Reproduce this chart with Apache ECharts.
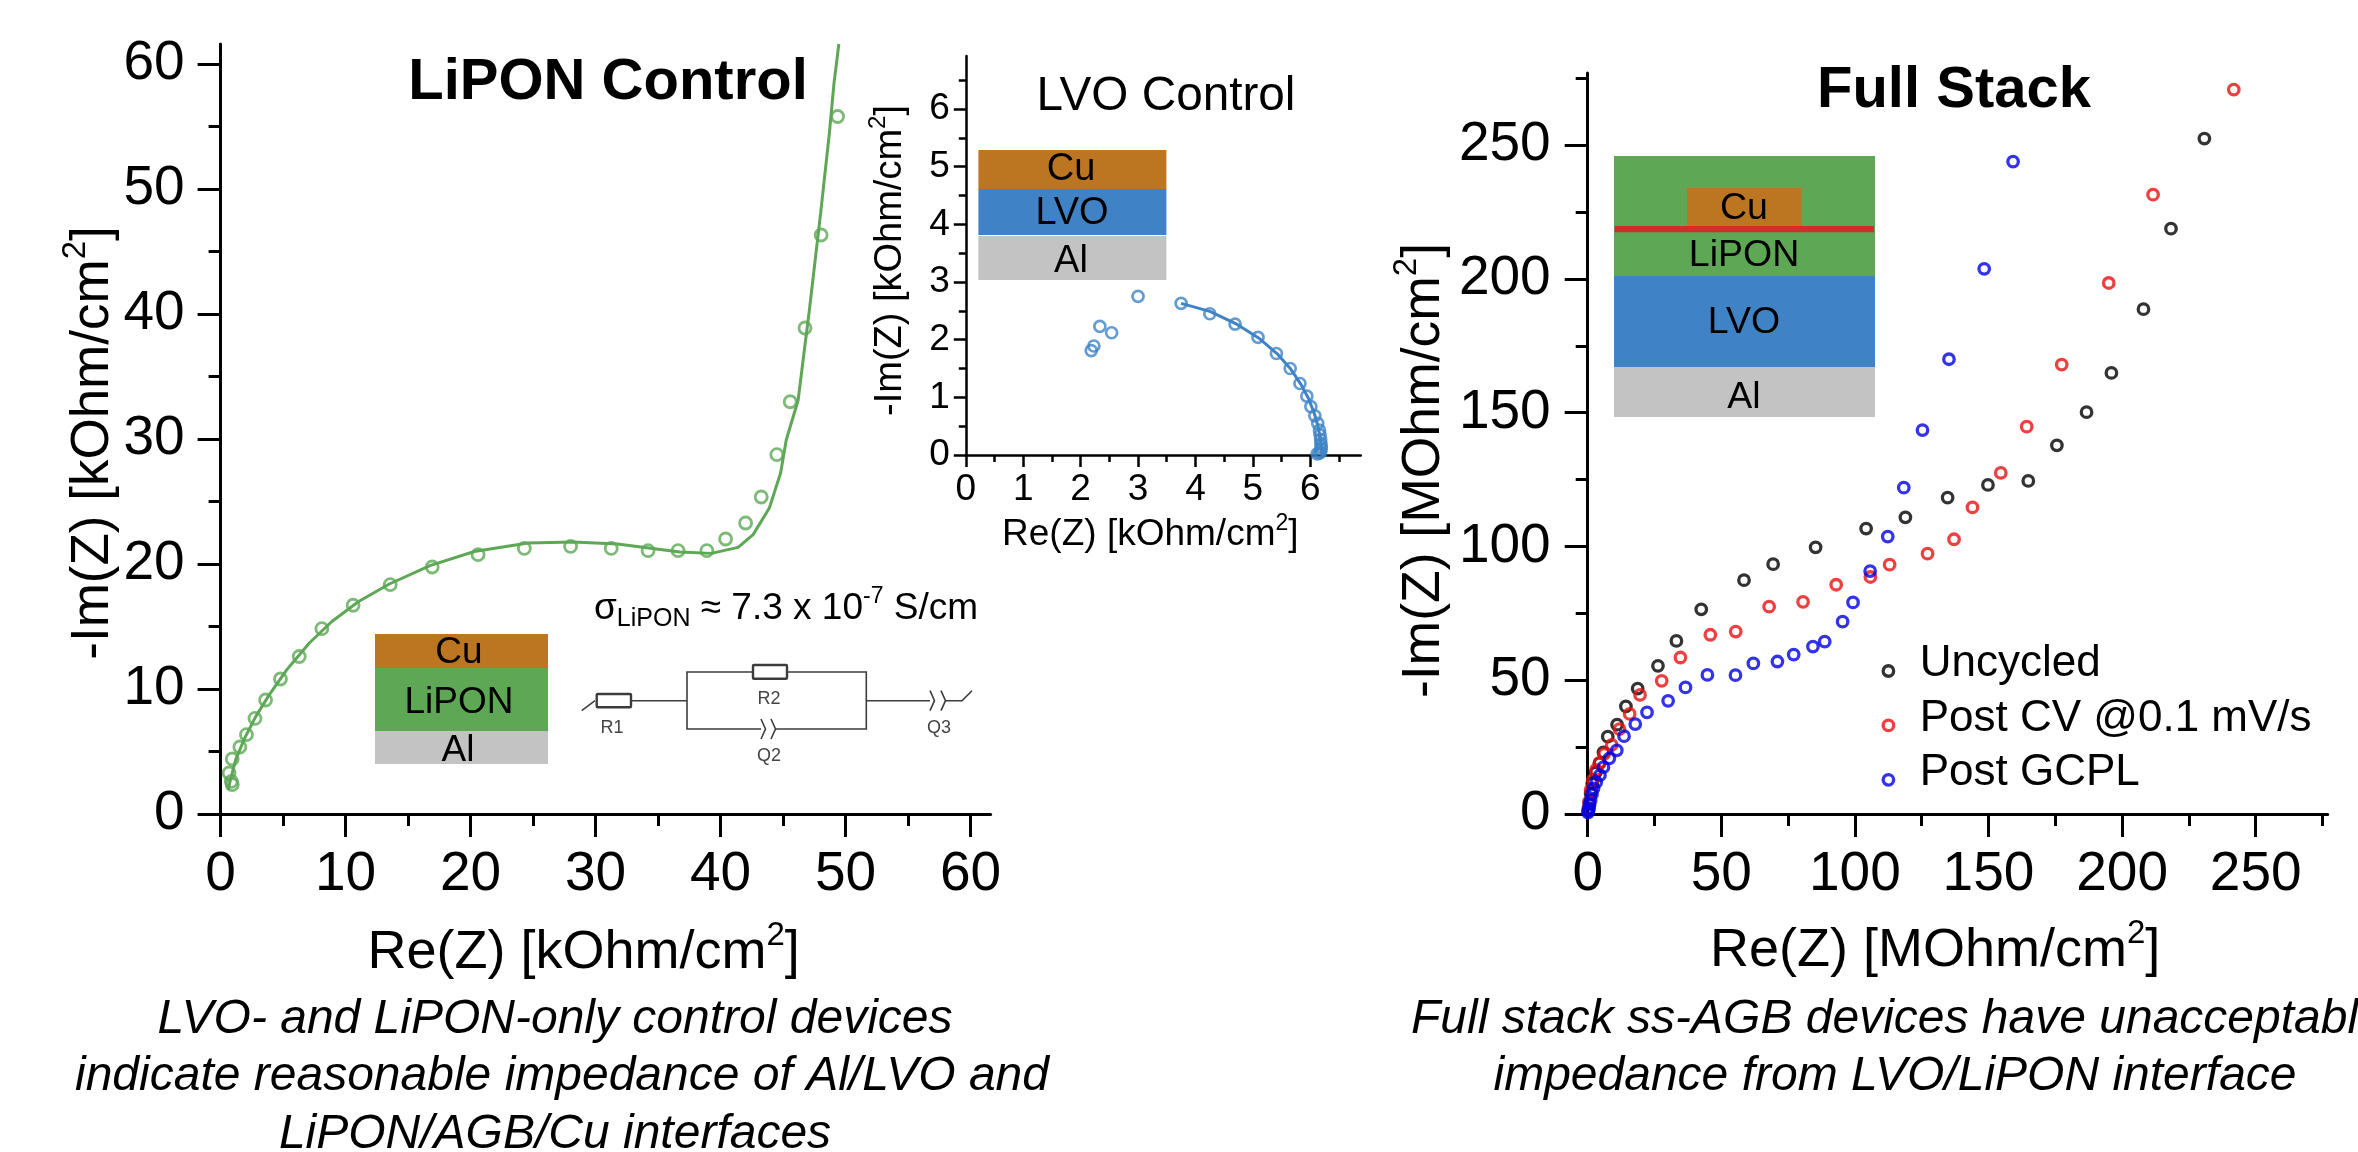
<!DOCTYPE html>
<html><head><meta charset="utf-8">
<style>html,body{margin:0;padding:0;background:#fff}#c{width:2358px;height:1152px}</style>
<script src="https://cdn.jsdelivr.net/npm/echarts@6/dist/echarts.min.js"></script></head>
<body><div id="c"></div>
<script>
// ---------- DATA ----------
const lipon_pts = [[0.93,2.35],[0.86,2.61],[0.68,3.28],[0.93,4.4],[1.54,5.36],[2.07,6.35],[2.75,7.65],[3.6,9.12],[4.79,10.8],[6.29,12.6],[8.1,14.83],[10.6,16.7],[13.57,18.35],[16.93,19.76],[20.6,20.75],[24.3,21.25],[28,21.41],[31.25,21.25],[34.2,21.07],[36.6,21.07],[38.9,21.07],[40.4,22],[42,23.28],[43.25,25.36],[44.5,28.75],[45.57,32.98],[46.75,38.88],[48.04,46.32],[49.36,55.8]];
const lipon_fit = [[0.6,1.9],[0.79,2.75],[1.21,4.35],[1.93,6.08],[2.82,7.81],[3.9,9.55],[5.3,11.55],[7.1,13.68],[8.9,15.4],[11.04,17],[13.5,18.4],[16.75,19.87],[20.3,21],[24.6,21.68],[28.2,21.76],[31.75,21.6],[34.25,21.28],[36.75,20.96],[39.25,20.85],[41.4,21.33],[42.6,22.35],[43.9,24.48],[44.8,27.28],[45.25,29.92],[46.2,33.1],[47.1,40.3],[48,48.05],[48.7,54.45],[49.07,58.45],[49.46,61.6]];
const lvo_pts = [[2.185,1.81],[2.23,1.89],[2.335,2.23],[2.54,2.12],[3,2.75],[3.75,2.63],[4.25,2.45],[4.69,2.27],[5.09,2.04],[5.41,1.76],[5.65,1.5],[5.82,1.24],[5.94,1.02],[6.01,0.84],[6.08,0.68],[6.13,0.55],[6.16,0.43],[6.17,0.35],[6.18,0.27],[6.185,0.2],[6.19,0.145],[6.19,0.1],[6.18,0.05],[6.16,0.03],[6.12,0.02]];
const lvo_fit = [[3.75,2.63],[4.25,2.49],[4.7,2.28],[5.1,2.03],[5.42,1.76],[5.66,1.49],[5.84,1.22],[5.97,0.98],[6.07,0.72],[6.14,0.48],[6.18,0.25],[6.2,0.05],[6.2,0]];
const uncycled = [[230.8,252.5],[218.3,218.8],[208,188.7],[196,164.9],[186.7,150.2],[175.6,137.8],[164.9,124.5],[149.8,123],[134.7,118.3],[118.9,110.9],[104.2,106.7],[85.3,99.7],[69.4,93.4],[58.5,87.4],[42.5,76.5],[33.2,64.7],[26.3,55.4],[18.7,46.9],[14.3,40.2],[11,33.4],[7.5,28.9],[5.9,23],[4.4,19],[3,15.5],[1.7,11.5],[1.1,7.7],[0.6,4],[0.25,1.5]];
const postCV = [[241.8,270.8],[211.6,231.5],[195,198.5],[177.4,168],[164.3,144.8],[154.6,127.5],[144,114.6],[137.1,102.7],[127.2,97.3],[113,93.2],[105.8,88.6],[93,85.7],[80.6,79.3],[67.9,77.5],[55.4,68.2],[45.9,67],[34.7,58.5],[27.7,49.8],[19.6,44.5],[15.7,37.4],[11.9,31.7],[9,25.8],[6.2,22.5],[4.4,19],[3.1,16.5],[1.9,12.7],[1.1,9],[0.5,4.6],[0.25,2.1]];
const postGCPL = [[159.2,243.9],[148.4,203.8],[135.2,170],[125.3,143.5],[118.3,122],[112.3,103.7],[105.7,90.8],[99.3,79.1],[95.4,71.9],[88.7,64.4],[84.3,62.6],[77.1,59.6],[71,57],[62,56.3],[55.3,51.9],[44.8,52],[36.6,47.3],[30.1,42.3],[22.2,38],[17.8,33.6],[13.6,29.1],[10.9,23.8],[8.1,20.8],[5.9,17.5],[4.6,14.5],[3.2,11.9],[2.2,9.6],[1.6,7.4],[1.1,5.2],[0.7,3.4],[0.5,2.1],[0.25,1.1],[0.12,0.5]];

const leftMajor = [0,10,20,30,40,50,60];
const leftMinor = [5,15,25,35,45,55];
const insetMajor = [0,1,2,3,4,5,6];
const insetMinor = [0.5,1.5,2.5,3.5,4.5,5.5,6.5];
const rightMajor = [0,50,100,150,200,250];
const rightMinor = [25,75,125,175,225,275];

const reName = 'Re(Z) [kOhm/cm', imName = '-Im(Z) [kOhm/cm';
const reNameM = 'Re(Z) [MOhm/cm', imNameM = '-Im(Z) [MOhm/cm';
const seriesNames = ['Uncycled','Post CV @0.1 mV/s','Post GCPL'];
const captionLeft = ['LVO- and LiPON-only control devices','indicate reasonable impedance of Al/LVO and','LiPON/AGB/Cu interfaces'];
const captionRight = ['Full stack ss-AGB devices have unacceptable','impedance from LVO/LiPON interface'];
// ---------- STYLE ----------
const FONT='"Liberation Sans",Arial,sans-serif';
const GREEN='#5DA755',BLUE='#3F83C6',CU='#BC7622',AL='#C3C3C3',RED='#D62B2B';

function axisPair(type,opts){
  const {gridIndex,min,max,major,minor,labelSize,majLen,minLen,width,name,nameSize,nameGap,labelMargin,shift}=opts;
  const base={type:'value',gridIndex,min,max,position:type==='x'?'bottom':'left',splitLine:{show:false}};
  const rich={a:{fontSize:nameSize,fontFamily:FONT,color:'#000',lineHeight:nameSize*1.25,verticalAlign:'middle'},
              s:{fontSize:Math.round(nameSize*0.62),fontFamily:FONT,color:'#000',verticalAlign:'top',lineHeight:nameSize*0.9}};
  return [
   Object.assign({},base,{
     axisLine:{show:true,onZero:false,lineStyle:{color:'#000',width}},
     axisTick:{show:true,customValues:major,length:majLen,lineStyle:{color:'#000',width}},
     axisLabel:{show:true,customValues:major,margin:labelMargin,fontSize:labelSize,fontFamily:FONT,color:'#000',
       hideOverlap:false,showMinLabel:true,showMaxLabel:true},
     name:`{a|${name}}{s|2}{a|]}`,nameLocation:'middle',nameGap,nameTextStyle:{rich,padding:[0,shift,0,0]}
   }),
   Object.assign({},base,{
     axisLine:{show:false},axisLabel:{show:false},
     axisTick:{show:true,customValues:minor,length:minLen,lineStyle:{color:'#000',width}}
   })
  ];
}
const hollow=(c,size,bw)=>({type:'scatter',symbol:'circle',symbolSize:size,itemStyle:{color:'transparent',borderColor:c,borderWidth:bw},clip:false,z:5});
const fit=(c,w)=>({type:'line',symbol:'none',smooth:false,lineStyle:{color:c,width:w},clip:true,z:4,silent:true});

const xA=[...axisPair('x',{gridIndex:0,min:0,max:61.6,major:leftMajor,minor:leftMinor,labelSize:55,majLen:23,minLen:12,width:3,name:reName,nameSize:54,nameGap:105,labelMargin:33,shift:44}),
          ...axisPair('x',{gridIndex:1,min:0,max:6.88,major:insetMajor,minor:insetMinor,labelSize:37,majLen:12,minLen:7,width:2.5,name:reName,nameSize:37,nameGap:57,labelMargin:16,shift:26}),
          ...axisPair('x',{gridIndex:2,min:0,max:276.95,major:rightMajor,minor:rightMinor,labelSize:55,majLen:23,minLen:12,width:3,name:reNameM,nameSize:54,nameGap:103,labelMargin:33,shift:45})];
const yA=[...axisPair('y',{gridIndex:0,min:0,max:61.6,major:leftMajor,minor:leftMinor,labelSize:55,majLen:23,minLen:12,width:3,name:imName,nameSize:53,nameGap:90,labelMargin:36,shift:28}),
          ...axisPair('y',{gridIndex:1,min:0,max:6.92,major:insetMajor,minor:insetMinor,labelSize:37,majLen:12,minLen:7,width:2.5,name:imName,nameSize:38,nameGap:52,labelMargin:16,shift:10}),
          ...axisPair('y',{gridIndex:2,min:0,max:277,major:rightMajor,minor:rightMinor,labelSize:55,majLen:23,minLen:12,width:3,name:imNameM,nameSize:53.5,nameGap:130,labelMargin:37,shift:54})];

const rect=(x,y,w,h,fill,z=10)=>({type:'rect',shape:{x,y,width:w,height:h},style:{fill},z,silent:true});
const txt=(x,y,text,size,o={})=>({type:'text',x,y,z:12,silent:true,style:Object.assign({text,fontSize:size,fontFamily:FONT,fill:'#000',align:'center',verticalAlign:'middle'},o)});
const poly=(pts)=>({type:'polyline',shape:{points:pts},style:{stroke:'#3c3c3c',lineWidth:1.6,fill:null},z:11,silent:true});
const res=(x,y,w,h)=>({type:'rect',shape:{x,y,width:w,height:h,r:1},style:{fill:'#fff',stroke:'#3c3c3c',lineWidth:2.4},z:11,silent:true});
const chev=(x,y)=>poly([[x,y-10],[x+4.5,y],[x,y+10]]);

const graphics=[
 // stacks
 rect(375,634,173,34,CU),rect(375,668,173,63,GREEN),rect(375,731,173,33,AL),
 txt(459,653,'Cu',37),txt(459,703,'LiPON',37),txt(458,751,'Al',37),
 rect(978.4,150,188,39,CU),rect(978.4,189,188,46,BLUE),rect(978.4,236,188,44,AL),
 txt(1071,170,'Cu',38),txt(1072,214,'LVO',38),txt(1071,262,'Al',38),
 rect(1614,156,261,120,GREEN),rect(1614,276,261,91,BLUE),rect(1614,367,261,50,AL),
 rect(1687,188,114.5,38,CU),rect(1614.6,226,259.4,6.3,RED),
 txt(1744,209,'Cu',37.5),txt(1744,256,'LiPON',37.5),txt(1744,323,'LVO',37.5),txt(1744,398,'Al',37.5),
 // titles
 txt(608,83,'LiPON Control',58,{fontWeight:'bold'}),
 txt(1954,91,'Full Stack',58,{fontWeight:'bold'}),
 txt(1166,96.5,'LVO Control',47.7),
 // conductivity
 {type:'text',x:594,y:608.5,z:12,silent:true,style:{align:'left',verticalAlign:'middle',
   text:'{a|σ}{b|LiPON}{a| ≈ 7.3 x 10}{c|-7}{a| S/cm}',
   rich:{a:{fontSize:37,fontFamily:FONT,fill:'#000',verticalAlign:'middle',lineHeight:46},
         b:{fontSize:25,fontFamily:FONT,fill:'#000',verticalAlign:'bottom',lineHeight:31},
         c:{fontSize:23,fontFamily:FONT,fill:'#000',verticalAlign:'top',lineHeight:27}}}},
 // circuit
 poly([[581.7,710.7],[595,700.7]]),res(596.7,694,34.3,13.3),poly([[631,700.7],[687,700.7]]),
 poly([[753,672],[687,672],[687,729],[761,729]]),res(753,665,34,13.7),poly([[787,672],[866.3,672],[866.3,729],[775,729]]),
 chev(761,729),chev(771,729),
 poly([[866.3,700.7],[930,700.7]]),chev(930,700.7),chev(941,700.7),poly([[945.5,700.7],[962,700.7],[972,690.7]]),
 txt(612,727.7,'R1',18,{fill:'#444'}),txt(769,699,'R2',18,{fill:'#444'}),txt(769,755.7,'Q2',18,{fill:'#444'}),txt(939,727.7,'Q3',18,{fill:'#444'}),
 // captions
 txt(555,1020,captionLeft[0],48,{fontStyle:'italic'}),
 txt(562,1077,captionLeft[1],48,{fontStyle:'italic'}),
 txt(555,1135,captionLeft[2],48,{fontStyle:'italic'}),
 txt(1411,1020,captionRight[0],48,{fontStyle:'italic',align:'left'}),
 txt(1895,1077,captionRight[1],48,{fontStyle:'italic'})
];

const option={
 animation:false,backgroundColor:'#fff',
 grid:[{left:220.6,top:44,width:770,height:770},
       {left:965.8,top:56,width:395,height:399},
       {left:1587.7,top:73,width:740,height:741}],
 xAxis:xA,yAxis:yA,
 legend:{show:true,orient:'vertical',left:1881.5,top:642,padding:0,itemWidth:10.5,itemHeight:10.5,itemGap:-3.6,
   data:seriesNames,icon:'circle',itemStyle:{borderWidth:3.3},
   formatter:'{t|{name}}',
   textStyle:{rich:{t:{fontSize:44,fontFamily:FONT,color:'#000',lineHeight:28,padding:[0,0,14,21]}}}},
 graphic:graphics,
 series:[
  Object.assign(fit(GREEN,3),{xAxisIndex:0,yAxisIndex:0,data:lipon_fit}),
  Object.assign(hollow(GREEN,12,2.8),{xAxisIndex:0,yAxisIndex:0,data:lipon_pts}),
  Object.assign(fit(BLUE,3),{xAxisIndex:2,yAxisIndex:2,data:lvo_fit,clip:false}),
  Object.assign(hollow(BLUE,11,2.7),{xAxisIndex:2,yAxisIndex:2,data:lvo_pts}),
  Object.assign(hollow('#000',10.5,3.3),{name:seriesNames[0],xAxisIndex:4,yAxisIndex:4,data:uncycled}),
  Object.assign(hollow('#E81010',10.5,3.3),{name:seriesNames[1],xAxisIndex:4,yAxisIndex:4,data:postCV}),
  Object.assign(hollow('#0000E6',10.5,3.3),{name:seriesNames[2],xAxisIndex:4,yAxisIndex:4,data:postGCPL})
 ]
};
echarts.init(document.getElementById('c'),null,{renderer:'canvas'}).setOption(option);
</script></body></html>
